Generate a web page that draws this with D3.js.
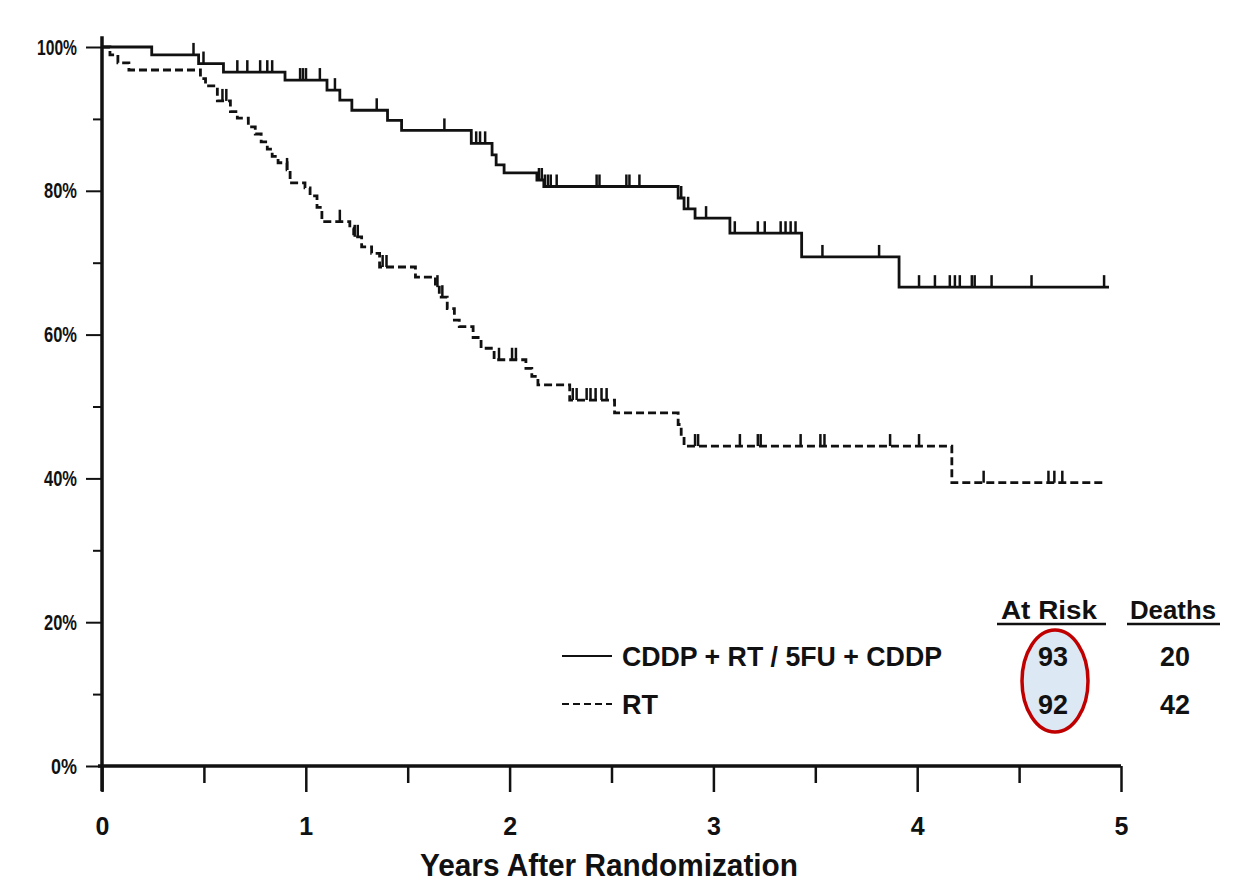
<!DOCTYPE html>
<html><head><meta charset="utf-8">
<script src="https://cdn.jsdelivr.net/npm/d3@7"></script>
<style>
body{margin:0;background:#fff;}
svg text{font-family:"Liberation Sans Narrow","Arial Narrow","Liberation Sans",Arial,sans-serif;fill:#111;}
</style></head>
<body><svg id="c" width="1236" height="890"></svg>
<script>
// ---- data ----
const yTicks = [0, 20, 40, 60, 80, 100];
const yMinorTicks = [10, 30, 50, 70, 90];
const xTicks = [0, 1, 2, 3, 4, 5];
const xMinorTicks = [0.5, 1.5, 2.5, 3.5, 4.5];
const seriesNames = ["CDDP + RT / 5FU + CDDP", "RT"];
const atRisk = [93, 92];
const deaths = [20, 42];
// step times (years) and survival (%) after each step
const combTimes = [0, 0.244, 0.474, 0.596, 0.898, 1.104, 1.167, 1.226, 1.401, 1.470, 1.812, 1.914, 1.934, 1.973, 2.134, 2.168, 2.827, 2.856, 2.910, 3.081, 3.433, 3.911, 4.941];
const combSurv  = [100, 98.9, 97.7, 96.5, 95.4, 94.0, 92.6, 91.2, 89.8, 88.4, 86.6, 85.0, 83.6, 82.5, 81.5, 80.6, 79.0, 77.5, 76.2, 74.1, 70.8, 66.6, 66.6];
const combCensor = [0.449, 0.498, 0.664, 0.713, 0.776, 0.811, 0.835, 0.972, 0.986, 1.001, 1.069, 1.143, 1.348, 1.680, 1.836, 1.855, 1.880, 2.144, 2.158, 2.173, 2.188, 2.202, 2.231, 2.427, 2.441, 2.573, 2.588, 2.637, 2.842, 2.876, 2.964, 3.105, 3.218, 3.252, 3.330, 3.354, 3.379, 3.403, 3.535, 3.813, 4.009, 4.087, 4.160, 4.185, 4.209, 4.268, 4.282, 4.365, 4.561, 4.917];
const rtTimes = [0, 0.039, 0.078, 0.132, 0.483, 0.508, 0.566, 0.630, 0.664, 0.718, 0.752, 0.781, 0.811, 0.835, 0.864, 0.908, 0.923, 0.996, 1.021, 1.055, 1.079, 1.216, 1.235, 1.274, 1.323, 1.362, 1.538, 1.636, 1.655, 1.694, 1.729, 1.753, 1.821, 1.860, 1.924, 2.080, 2.109, 2.139, 2.295, 2.515, 2.827, 2.842, 2.856, 4.170, 4.927];
const rtSurv  = [100, 98.9, 97.8, 96.8, 95.6, 94.6, 92.5, 91.0, 90.1, 88.9, 87.9, 86.8, 85.8, 84.8, 83.9, 82.9, 81.1, 80.4, 79.3, 77.7, 75.7, 74.8, 73.6, 72.2, 71.3, 69.4, 68.0, 66.6, 65.2, 63.6, 62.0, 61.1, 59.6, 58.1, 56.5, 55.3, 54.2, 53.0, 50.9, 49.1, 47.5, 45.8, 44.5, 39.4, 39.4];
const rtCensor = [0.591, 0.610, 0.908, 1.167, 1.240, 1.255, 1.377, 1.396, 1.646, 1.670, 1.948, 2.012, 2.031, 2.310, 2.329, 2.378, 2.397, 2.422, 2.451, 2.476, 2.910, 2.925, 3.130, 3.218, 3.232, 3.428, 3.525, 3.545, 3.867, 4.009, 4.326, 4.644, 4.673, 4.712];

// ---- chart ----
const svg = d3.select("#c");
const x = d3.scaleLinear().domain([0, 5]).range([102, 1121]);
const y = d3.scaleLinear().domain([0, 100]).range([766, 47]);
const ink = "#111";

// y axis (major + minor)
const gy = svg.append("g").attr("transform", `translate(${x(0)},0)`);
gy.call(d3.axisLeft(y).tickValues(yTicks).tickSize(16).tickPadding(9).tickFormat(d => d + "%"));
gy.select(".domain").remove();
gy.selectAll("line").attr("stroke", ink).attr("stroke-width", 2);
gy.selectAll("text").style("font-size", "22px").style("font-weight", "bold")
  .attr("textLength", d => d === 100 ? 40 : (d === 0 ? 26 : 33)).attr("lengthAdjust", "spacingAndGlyphs");
const gym = svg.append("g").attr("transform", `translate(${x(0)},0)`);
gym.call(d3.axisLeft(y).tickValues(yMinorTicks).tickSize(9).tickFormat(""));
gym.select(".domain").remove();
gym.selectAll("line").attr("stroke", ink).attr("stroke-width", 2);
svg.append("line").attr("x1", x(0)).attr("x2", x(0)).attr("y1", y(101.5)).attr("y2", y(-3.5))
  .attr("stroke", ink).attr("stroke-width", 3.5);

// x axis
const gx = svg.append("g").attr("transform", `translate(0,${y(0)})`);
gx.call(d3.axisBottom(x).tickValues(xTicks).tickSize(26).tickPadding(25).tickFormat(d3.format("d")));
gx.select(".domain").remove();
gx.selectAll("line").attr("stroke", ink).attr("stroke-width", 2.5);
gx.selectAll("text").style("font-size", "25px").style("font-weight", "bold");
const gxm = svg.append("g").attr("transform", `translate(0,${y(0)})`);
gxm.call(d3.axisBottom(x).tickValues(xMinorTicks).tickSize(17).tickFormat(""));
gxm.select(".domain").remove();
gxm.selectAll("line").attr("stroke", ink).attr("stroke-width", 2.5);
svg.append("line").attr("x1", x(0) - 4).attr("x2", x(5)).attr("y1", y(0)).attr("y2", y(0))
  .attr("stroke", ink).attr("stroke-width", 3.5);

svg.append("text").attr("x", 609).attr("y", 876).attr("text-anchor", "middle")
  .attr("textLength", 378).attr("lengthAdjust", "spacingAndGlyphs")
  .style("font-size", "31px").style("font-weight", "bold").text("Years After Randomization");

// curves
const line = d3.line().x(d => x(d[0])).y(d => y(d[1])).curve(d3.curveStepAfter);
const comb = combTimes.map((t, i) => [t, combSurv[i]]);
const rt = rtTimes.map((t, i) => [t, rtSurv[i]]);
function survAt(times, surv, t) { let v = surv[0]; for (let i = 0; i < times.length; i++) if (times[i] <= t) v = surv[i]; return v; }

svg.append("path").attr("d", line(comb)).attr("fill", "none").attr("stroke", ink).attr("stroke-width", 2.8);
svg.append("path").attr("d", line(rt)).attr("fill", "none").attr("stroke", ink).attr("stroke-width", 2.8)
  .attr("stroke-dasharray", "8,4");

svg.append("g").selectAll("line").data(combCensor).join("line")
  .attr("x1", d => x(d)).attr("x2", d => x(d))
  .attr("y1", d => y(survAt(combTimes, combSurv, d))).attr("y2", d => y(survAt(combTimes, combSurv, d)) - 12)
  .attr("stroke", ink).attr("stroke-width", 2.5);
svg.append("g").selectAll("line").data(rtCensor).join("line")
  .attr("x1", d => x(d)).attr("x2", d => x(d))
  .attr("y1", d => y(survAt(rtTimes, rtSurv, d))).attr("y2", d => y(survAt(rtTimes, rtSurv, d)) - 12)
  .attr("stroke", ink).attr("stroke-width", 2.5);

// legend
const legY = [656, 704];
const lg = svg.append("g");
lg.append("line").attr("x1", 562).attr("x2", 612).attr("y1", legY[0]).attr("y2", legY[0]).attr("stroke", ink).attr("stroke-width", 2);
lg.append("line").attr("x1", 562).attr("x2", 612).attr("y1", legY[1]).attr("y2", legY[1]).attr("stroke", ink).attr("stroke-width", 2).attr("stroke-dasharray", "7,4");
const lens = [320, 36];
seriesNames.forEach((n, i) => {
  lg.append("text").attr("x", 622).attr("y", legY[i] + 10).attr("textLength", lens[i]).attr("lengthAdjust", "spacingAndGlyphs")
    .style("font-size", "28px").style("font-weight", "bold").text(n);
});
lg.append("ellipse").attr("cx", 1055).attr("cy", 681).attr("rx", 33).attr("ry", 51)
  .attr("fill", "#dce8f4").attr("stroke", "#c00000").attr("stroke-width", 3.5);
lg.append("text").attr("x", 1049).attr("y", 619).attr("text-anchor", "middle").attr("textLength", 96).attr("lengthAdjust", "spacingAndGlyphs")
  .style("font-size", "26px").style("font-weight", "bold").text("At Risk");
lg.append("line").attr("x1", 997).attr("x2", 1106).attr("y1", 624).attr("y2", 624).attr("stroke", ink).attr("stroke-width", 2.5);
lg.append("text").attr("x", 1173).attr("y", 619).attr("text-anchor", "middle").attr("textLength", 86).attr("lengthAdjust", "spacingAndGlyphs")
  .style("font-size", "26px").style("font-weight", "bold").text("Deaths");
lg.append("line").attr("x1", 1127).attr("x2", 1220).attr("y1", 624).attr("y2", 624).attr("stroke", ink).attr("stroke-width", 2.5);
atRisk.forEach((v, i) => {
  lg.append("text").attr("x", 1053).attr("y", legY[i] + 10).attr("text-anchor", "middle").attr("textLength", 30).attr("lengthAdjust", "spacingAndGlyphs")
    .style("font-size", "27px").style("font-weight", "bold").text(v);
});
deaths.forEach((v, i) => {
  lg.append("text").attr("x", 1175).attr("y", legY[i] + 10).attr("text-anchor", "middle").attr("textLength", 30).attr("lengthAdjust", "spacingAndGlyphs")
    .style("font-size", "27px").style("font-weight", "bold").text(v);
});
</script></body></html>
